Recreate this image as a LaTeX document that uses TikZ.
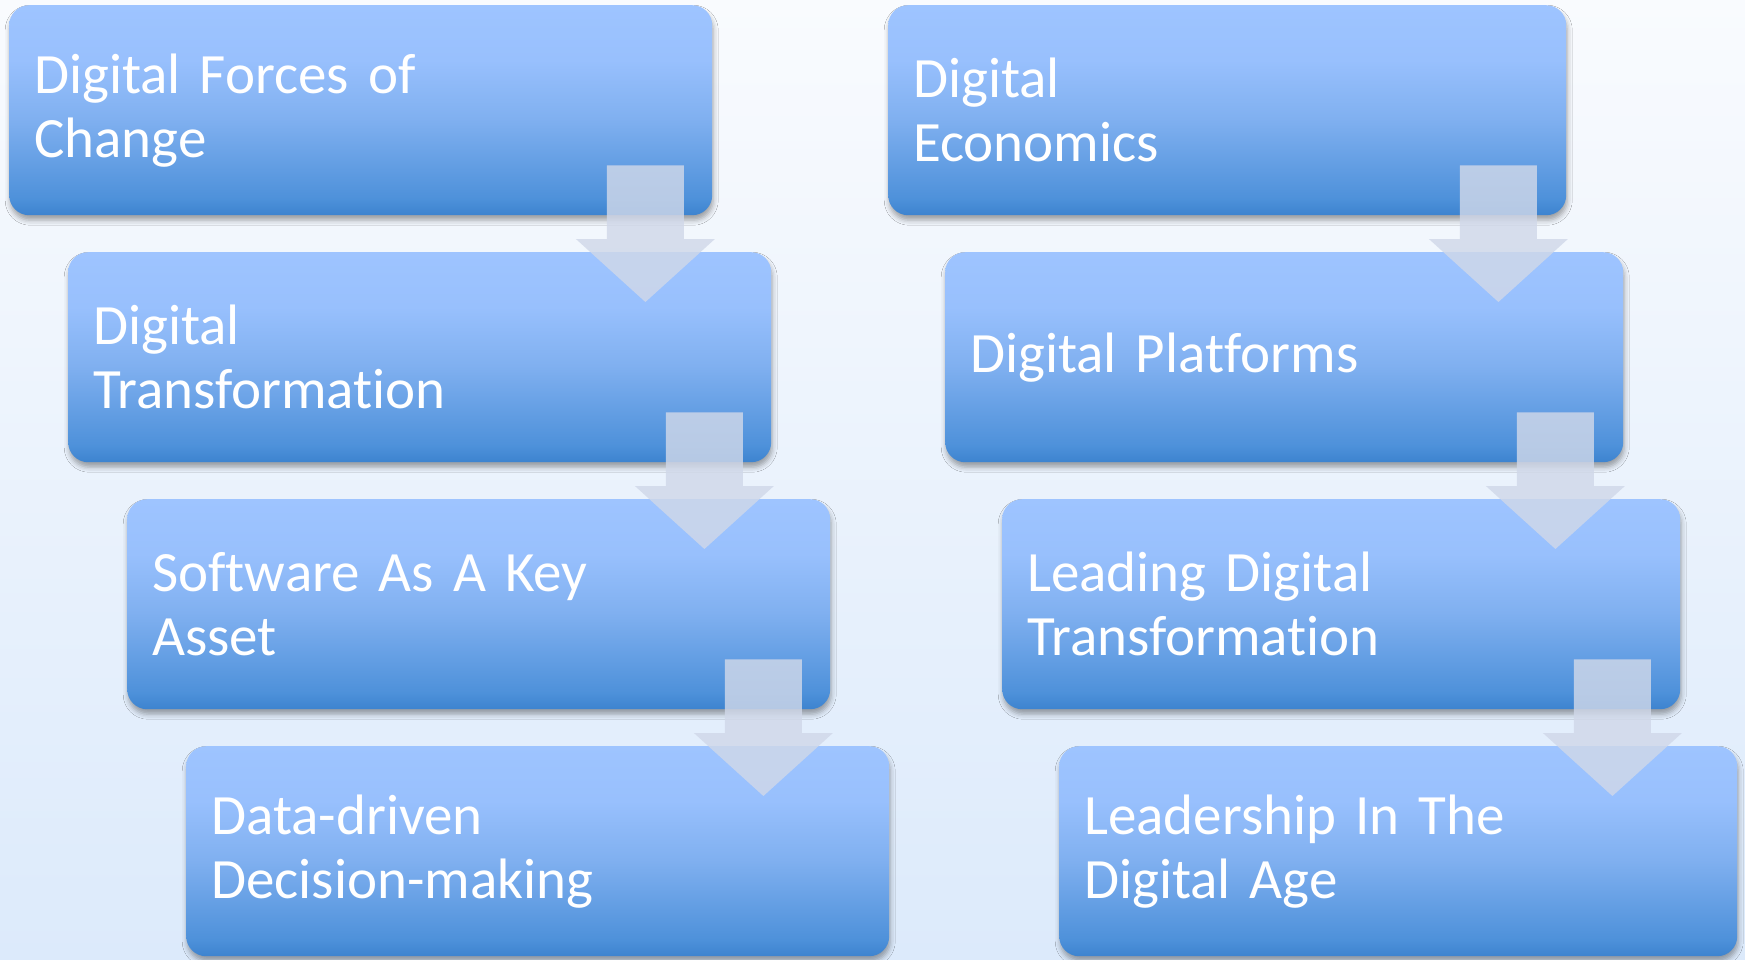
\documentclass[tikz,border=0pt]{standalone}
\usepackage{fontspec}
\setmainfont{Carlito}[Ligatures={NoCommon}, RawFeature={-liga}, WordSpace=0.9]
\usetikzlibrary{calc,shadows.blur}
\definecolor{bgtop}{RGB}{249,251,254}
\definecolor{bgbot}{RGB}{220,234,251}
\definecolor{bxA}{RGB}{61,131,207}
\definecolor{bxB}{RGB}{78,145,218}
\definecolor{bxC}{RGB}{128,176,240}
\definecolor{bxD}{RGB}{152,192,253}
\definecolor{bxE}{RGB}{158,196,255}
\definecolor{arrowc}{RGB}{208,216,233}
\pgfdeclareverticalshading{boxgrad}{100bp}{%
  color(0bp)=(bxA); color(25bp)=(bxA); color(29bp)=(bxB);
  color(48bp)=(bxC); color(62bp)=(bxD); color(75bp)=(bxE); color(100bp)=(bxE)}
\tikzset{
  stage/.style={rounded corners=20pt, shading=boxgrad, anchor=north west,
    minimum height=210pt, inner xsep=25pt, inner ysep=0pt, align=left,
    text=white, font=\fontsize{57}{64}\selectfont,
    blur shadow={shadow xshift=1pt, shadow yshift=-5pt, shadow blur radius=5pt, shadow opacity=35}},
  lstage/.style={stage, minimum width=703pt, text width=653pt},
  rstage/.style={stage, minimum width=678pt, text width=628pt},
  flowarrow/.style={fill=arrowc, fill opacity=0.82}
}
\begin{document}
\begin{tikzpicture}[x=1pt,y=-1pt]
\useasboundingbox (0,0) rectangle (1745,959);
\shade[top color=bgtop, bottom color=bgbot] (0,0) rectangle (1745,959);
% left column
\node[lstage] (L1) at (9,5) {Digital Forces of\\Change};
\node[lstage] (L2) at (68,252) {Digital\\Transformation};
\node[lstage] (L3) at (127,499) {Software As A Key\\Asset};
\node[lstage] (L4) at (186,746) {Data-driven\\Decision-making};
% right column
\node[rstage] (R1) at (888,5) {Digital\\Economics};
\node[rstage] (R2) at (945,252) {Digital Platforms};
\node[rstage] (R3) at (1002,499) {Leading Digital\\Transformation};
\node[rstage] (R4) at (1059,746) {Leadership In The\\Digital Age};
% arrows
\foreach \a/\b/\d in {L1/L2/67,L2/L3/67,L3/L4/67,R1/R2/68,R2/R3/68,R3/R4/68}{
  \coordinate (t) at ($(\a.south east)+(-\d,-50)$);
  \coordinate (tip) at ($(t |- \b.north)+(0,50)$);
  \fill[flowarrow] ($(t)+(-38.5,0)$) -- ($(t)+(38.5,0)$) -- ($(tip)+(38.5,-63)$)
    -- ($(tip)+(69.5,-63)$) -- (tip) -- ($(tip)+(-69.5,-63)$)
    -- ($(tip)+(-38.5,-63)$) -- cycle;
}
\end{tikzpicture}
\end{document}
